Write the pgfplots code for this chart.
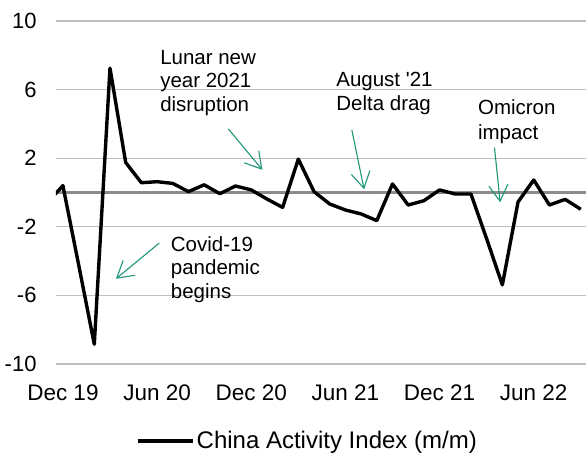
\documentclass[border=0pt]{standalone}
\usepackage{fontspec}
\setmainfont{Liberation Sans}
\usepackage{pgfplots}
\usepackage{pgfplotstable}
\pgfplotsset{compat=1.18}
\usetikzlibrary{arrows.meta}
\definecolor{annot}{RGB}{30,150,120}
\definecolor{gridc}{RGB}{191,191,191}
\definecolor{zeroc}{RGB}{140,140,140}
\newcommand{\annfont}{\fontsize{20.5bp}{24bp}\selectfont}

\pgfplotstableread{
m v
-1 -0.6
0 0.4
1 -4.2
2 -8.85
3 7.25
4 1.75
5 0.57
6 0.63
7 0.53
8 0.05
9 0.45
10 -0.07
11 0.38
12 0.15
13 -0.38
14 -0.87
15 1.95
16 0.05
17 -0.67
18 -1.02
19 -1.25
20 -1.64
21 0.5
22 -0.73
23 -0.48
24 0.15
25 -0.09
26 -0.09
27 -2.7
28 -5.39
29 -0.55
30 0.73
31 -0.73
32 -0.4
33 -0.98
}\datatable

\begin{document}
\begin{tikzpicture}
\begin{axis}[
 name=ax,
 scale only axis,
 width=530bp, height=343bp,
 xmin=-0.44, xmax=33.33, ymin=-10, ymax=10,
 axis line style={draw=none},
 major tick length=0pt,
 ytick={-10,-6,-2,2,6,10},
 xtick={0,6,12,18,24,30},
 xticklabels={Dec 19,Jun 20,Dec 20,Jun 21,Dec 21,Jun 22},
 ymajorgrids,
 major grid style={gridc, line width=1.2bp},
 extra y ticks={0},
 extra y tick labels={},
 extra y tick style={major grid style={zeroc, line width=2.6bp}},
 /pgf/number format/assume math mode=true,
 yticklabel style={font=\fontsize{22bp}{26bp}\selectfont, anchor=east, inner sep=0pt, xshift=-19.3bp},
 xticklabel style={font=\fontsize{22.5bp}{26bp}\selectfont, anchor=north, inner sep=0pt, yshift=-21bp},
 legend style={draw=none, fill=none, at={(axis description cs:0.1510,-0.2245)}, anchor=west, inner sep=0pt,
   font=\fontsize{24bp}{28bp}\selectfont},
 legend cell align=left,
 legend image code/.code={\draw[#1, line width=3.5bp] (0bp,0bp) -- (55bp,0bp);},
]
\addplot[black, line width=3.4bp, line join=round] table[x=m, y=v] {\datatable};
\addlegendentry{China Activity Index (m/m)}

\node[anchor=base west, inner sep=0pt, font=\annfont] at (axis cs:6.19,7.44) {Lunar new};
\node[anchor=base west, inner sep=0pt, font=\annfont] at (axis cs:6.19,6.10) {year 2021};
\node[anchor=base west, inner sep=0pt, font=\annfont] at (axis cs:6.19,4.73) {disruption};

\node[anchor=base west, inner sep=0pt, font=\annfont] at (axis cs:17.41,6.17) {August \textquotesingle 21};
\node[anchor=base west, inner sep=0pt, font=\annfont] at (axis cs:17.41,4.81) {Delta drag};

\node[anchor=base west, inner sep=0pt, font=\annfont] at (axis cs:26.44,4.52) {Omicron};
\node[anchor=base west, inner sep=0pt, font=\annfont] at (axis cs:26.44,3.11) {impact};

\node[anchor=base west, inner sep=0pt, font=\annfont] at (axis cs:6.87,-3.44) {Covid-19};
\node[anchor=base west, inner sep=0pt, font=\annfont] at (axis cs:6.87,-4.80) {pandemic};
\node[anchor=base west, inner sep=0pt, font=\annfont] at (axis cs:6.87,-6.20) {begins};

\draw[annot, line width=1.1bp, -{Straight Barb[length=16bp,width=19bp]}] (axis cs:10.54,3.71) -- (axis cs:12.71,1.32);
\draw[annot, line width=1.1bp, -{Straight Barb[length=16bp,width=19bp]}] (axis cs:18.41,3.65) -- (axis cs:19.19,0.19);
\draw[annot, line width=1.1bp, -{Straight Barb[length=16bp,width=19bp]}] (axis cs:27.50,2.62) -- (axis cs:27.86,-0.57);
\draw[annot, line width=1.1bp, -{Straight Barb[length=16bp,width=19bp]}] (axis cs:6.14,-2.95) -- (axis cs:3.38,-5.03);
\end{axis}
\pgfresetboundingbox
\path ([xshift=-56bp,yshift=-91bp]ax.south west) rectangle ([yshift=21bp]ax.north east);
\end{tikzpicture}
\end{document}
